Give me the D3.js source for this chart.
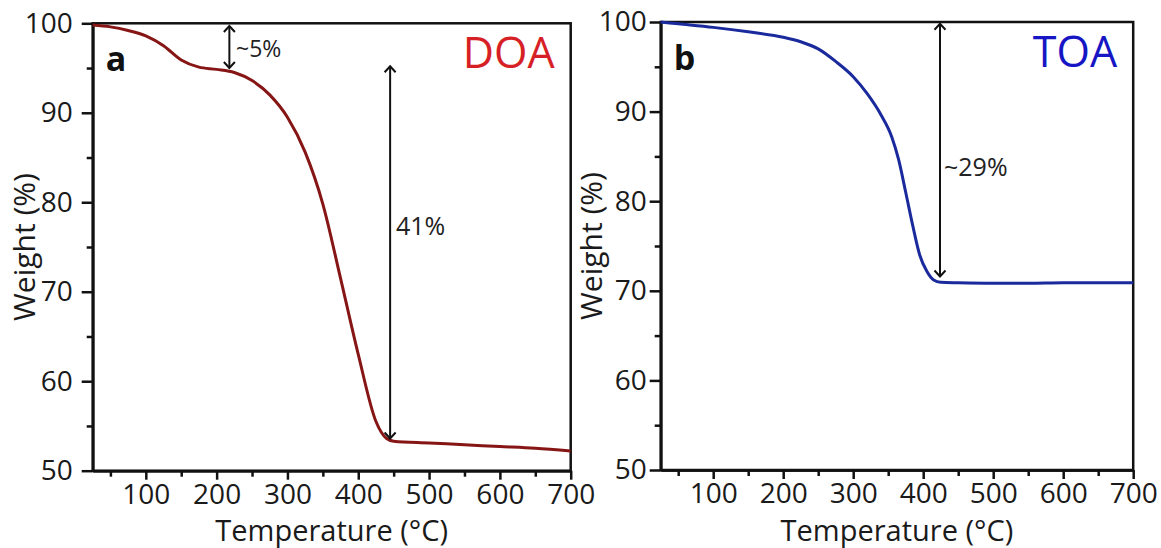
<!DOCTYPE html>
<html>
<head>
<meta charset="utf-8">
<script src="https://cdn.jsdelivr.net/npm/d3@7"></script>
<style>
  body { margin: 0; background: #fff; }
  svg { font-family: "Open Sans", "Noto Sans", sans-serif; }
  .axis text { font-size: 28px; fill: #1a1a1a; font-family: "Open Sans", sans-serif; }
  .axis path, .axis line { stroke: #111; stroke-width: 2.5px; }
</style>
</head>
<body>
<svg id="chart" width="1161" height="548"></svg>
<script>
// DOA (panel a)
const doaTemp   = [25, 50, 75, 100, 125, 150, 175, 200, 225, 250, 275, 300, 325, 350, 375, 400, 425, 440, 450, 500, 550, 600, 650, 700];
const doaWeight = [99.8, 99.6, 99.2, 98.6, 97.5, 95.9, 95.1, 94.85, 94.5, 93.6, 92.0, 89.5, 85.6, 79.8, 71.5, 63.0, 55.5, 53.6, 53.3, 53.1, 52.9, 52.7, 52.5, 52.2];

// TOA (panel b)
const toaTemp   = [25, 50, 100, 150, 200, 225, 250, 275, 300, 320, 340, 355, 365, 375, 385, 395, 405, 415, 425, 450, 500, 550, 600, 650, 700];
const toaWeight = [100, 99.8, 99.4, 98.9, 98.3, 97.8, 97.0, 95.6, 93.9, 92.0, 89.6, 87.2, 84.6, 81.0, 77.3, 74.0, 72.2, 71.2, 70.95, 70.9, 70.85, 70.85, 70.9, 70.9, 70.9];

const xTicks = [100, 200, 300, 400, 500, 600, 700];
const xMinor = [50, 150, 250, 350, 450, 550, 650];
const yTicks = [50, 60, 70, 80, 90, 100];
const yMinor = [55, 65, 75, 85, 95];

const svg = d3.select('#chart');

// arrow head marker
svg.append('defs').append('marker')
  .attr('id', 'head')
  .attr('viewBox', '-8 -7 10 14')
  .attr('markerWidth', 10).attr('markerHeight', 14)
  .attr('markerUnits', 'userSpaceOnUse')
  .attr('orient', 'auto-start-reverse')
  .append('path')
    .attr('d', 'M-6,-5.5 L0,0 L-6,5.5')
    .attr('fill', 'none')
    .attr('stroke', '#111')
    .attr('stroke-width', 2);

const panels = [
  {
    letter: 'a', name: 'DOA', nameColor: '#d71f26', lineColor: '#861515',
    temp: doaTemp, weight: doaWeight,
    xr: [92.7, 570.7], yr: [470.7, 23.3], titleX: 25, labelGap: 9,
    arrows: [
      { t: 218, from: 99.7, to: 95.0, label: '~5%', lx: 236, ly: 57, fs: 23 },
      { t: 445, from: 95.2, to: 53.6, label: '41%', lx: 396, ly: 235, fs: 25 }
    ]
  },
  {
    letter: 'b', name: 'TOA', nameColor: '#1616c4', lineColor: '#1a2a9c',
    temp: toaTemp, weight: toaWeight,
    xr: [660.7, 1133.2], yr: [470, 22], titleX: 592, labelGap: 3,
    arrows: [
      { t: 424, from: 99.8, to: 71.6, label: '~29%', lx: 944, ly: 176, fs: 25 }
    ]
  }
];

panels.forEach(p => {
  const x = d3.scaleLinear().domain([25, 700]).range(p.xr);
  const y = d3.scaleLinear().domain([50, 100]).range(p.yr);
  const g = svg.append('g');

  // minor ticks
  g.append('g').attr('class', 'axis')
    .attr('transform', `translate(0,${p.yr[0]})`)
    .call(d3.axisBottom(x).tickValues(xMinor).tickSize(6).tickSizeOuter(0).tickFormat(''));
  g.append('g').attr('class', 'axis')
    .attr('transform', `translate(${p.xr[0]},0)`)
    .call(d3.axisLeft(y).tickValues(yMinor).tickSize(6).tickSizeOuter(0).tickFormat(''));

  // major ticks
  g.append('g').attr('class', 'axis')
    .attr('transform', `translate(0,${p.yr[0]})`)
    .call(d3.axisBottom(x).tickValues(xTicks).tickSize(9).tickSizeOuter(0).tickPadding(4));
  g.append('g').attr('class', 'axis')
    .attr('transform', `translate(${p.xr[0]},0)`)
    .call(d3.axisLeft(y).tickValues(yTicks).tickSize(11).tickSizeOuter(0).tickPadding(p.labelGap));

  // frame
  g.append('rect')
    .attr('x', p.xr[0]).attr('y', p.yr[1])
    .attr('width', p.xr[1] - p.xr[0]).attr('height', p.yr[0] - p.yr[1])
    .attr('fill', 'none').attr('stroke', '#111').attr('stroke-width', 2.5);

  // curve
  const pts = p.temp.map((t, i) => [t, p.weight[i]]);
  g.append('path')
    .datum(pts)
    .attr('fill', 'none')
    .attr('stroke', p.lineColor)
    .attr('stroke-width', 3)
    .attr('d', d3.line().x(d => x(d[0])).y(d => y(d[1])).curve(d3.curveMonotoneX));

  // arrows
  p.arrows.forEach(a => {
    g.append('line')
      .attr('x1', x(a.t)).attr('x2', x(a.t))
      .attr('y1', y(a.from)).attr('y2', y(a.to))
      .attr('stroke', '#111').attr('stroke-width', 2)
      .attr('marker-start', 'url(#head)')
      .attr('marker-end', 'url(#head)');
    g.append('text')
      .attr('x', a.lx).attr('y', a.ly)
      .attr('font-size', a.fs).attr('fill', '#222')
      .text(a.label);
  });

  // panel letter and sample name
  g.append('text')
    .attr('x', p.xr[0] + 13).attr('y', p.yr[1] + 48)
    .attr('font-size', 34).attr('font-weight', 'bold').attr('fill', '#111')
    .text(p.letter);
  g.append('text')
    .attr('x', p.xr[1] - 16).attr('y', p.yr[1] + 45)
    .attr('text-anchor', 'end')
    .attr('font-size', 43).attr('fill', p.nameColor)
    .text(p.name);

  // axis titles
  g.append('text')
    .attr('x', (p.xr[0] + p.xr[1]) / 2).attr('y', 541)
    .attr('text-anchor', 'middle').attr('font-size', 29).attr('fill', '#1a1a1a')
    .text('Temperature (°C)');
  g.append('text')
    .attr('transform', `translate(${p.titleX + 10},${(p.yr[0] + p.yr[1]) / 2}) rotate(-90)`)
    .attr('text-anchor', 'middle').attr('font-size', 30).attr('fill', '#1a1a1a')
    .text('Weight (%)');
});
</script>
</body>
</html>
